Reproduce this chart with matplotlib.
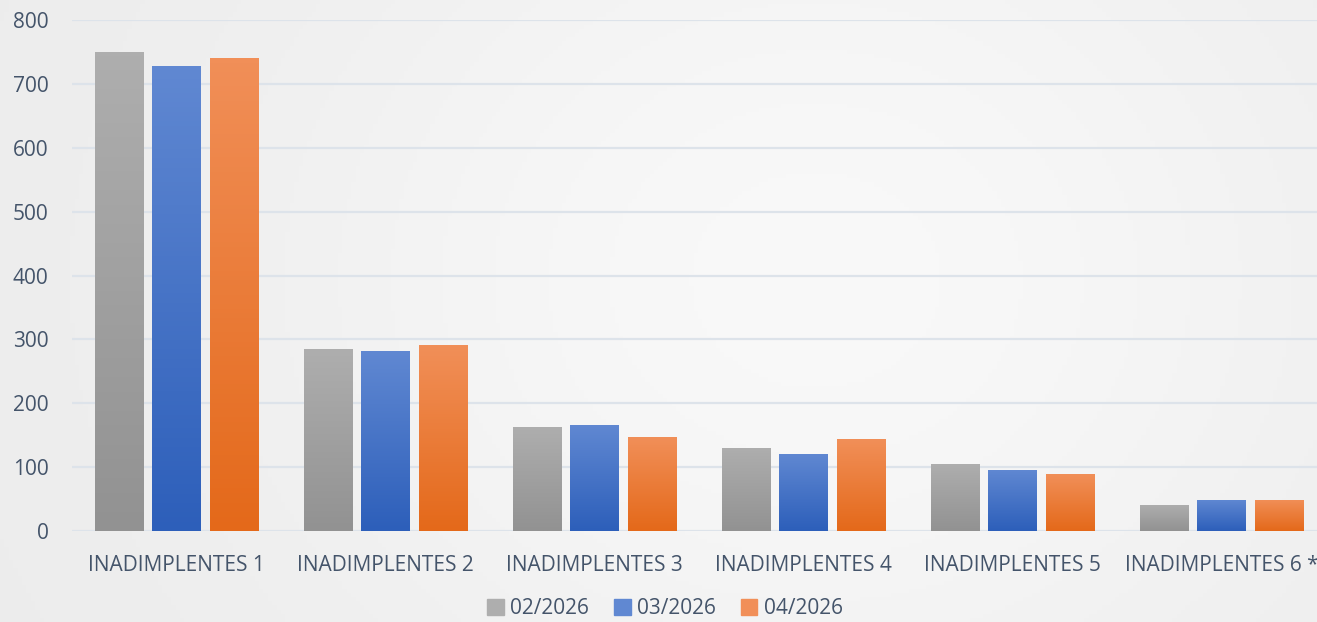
import numpy as np
import matplotlib
matplotlib.use("Agg")
import matplotlib.pyplot as plt
from matplotlib.colors import LinearSegmentedColormap

categories = ["INADIMPLENTES 1", "INADIMPLENTES 2", "INADIMPLENTES 3",
              "INADIMPLENTES 4", "INADIMPLENTES 5", "INADIMPLENTES 6 *"]
series_names = ["02/2026", "03/2026", "04/2026"]
v_feb = [750, 285, 163, 130, 105, 41]
v_mar = [728, 282, 166, 121, 96, 49]
v_apr = [740, 291, 147, 144, 89, 49]

# top colour / bottom colour of each series gradient
GRAD = [("#aeaeae", "#929292"), ("#6088d2", "#2d5fba"), ("#f18f58", "#e4691a")]
TXT = "#44546a"
GRID = "#dde3ea"

plt.rcParams["font.family"] = ["Open Sans", "DejaVu Sans"]

fig = plt.figure(figsize=(13.17, 6.22), dpi=100)

# soft background gradient (darker at the left, lighter right of centre)
bg = fig.add_axes([0, 0, 1, 1], zorder=-10)
xx, yy = np.meshgrid(np.linspace(0, 1, 300), np.linspace(0, 1, 150))
shade = 0.925 + 0.05 * np.exp(-((xx - 0.62) ** 2 / 0.18 + (yy - 0.55) ** 2 / 0.6))
bg.imshow(np.dstack([shade] * 3), extent=[0, 1, 0, 1], aspect="auto", origin="lower")
bg.axis("off")

ax = fig.add_axes([72 / 1317, 1 - 531 / 622, 1254 / 1317, 511 / 622])
ax.patch.set_alpha(0)

x = np.arange(len(categories))
w = 0.23
step = 0.277
for i, vals in enumerate([v_feb, v_mar, v_apr]):
    top, bot = GRAD[i]
    cmap = LinearSegmentedColormap.from_list(f"g{i}", [bot, top])
    bars = ax.bar(x + (i - 1) * step, vals, w, color=top, label=series_names[i], zorder=3)
    for b in bars:
        bx, by = b.get_x(), b.get_y()
        bw, bh = b.get_width(), b.get_height()
        im = ax.imshow(np.linspace(0, 1, 100).reshape(-1, 1), cmap=cmap, origin="lower",
                       extent=[bx, bx + bw, by, by + bh], aspect="auto", zorder=4)
        im.set_clip_path(b)

ax.set_xlim(-0.5, len(categories) - 0.5)
ax.set_ylim(0, 800)
ax.set_yticks(range(0, 801, 100))
ax.set_xticks(x)
ax.set_xticklabels(categories)
ax.yaxis.grid(True, color=GRID, linewidth=1.6, zorder=0)
ax.set_axisbelow(True)
for s in ax.spines.values():
    s.set_visible(False)
ax.tick_params(axis="both", length=0, colors=TXT, labelsize=15)
ax.tick_params(axis="y", pad=17)
ax.tick_params(axis="x", pad=17)

handles = [plt.Rectangle((0, 0), 1, 1, color=GRAD[i][0]) for i in range(3)]
leg = fig.legend(handles, series_names, loc="center", bbox_to_anchor=(665 / 1317, 1 - 609 / 622),
                 ncol=3, frameon=False, fontsize=15, handlelength=0.8, handleheight=0.8,
                 handletextpad=0.3, columnspacing=1.2)
for t in leg.get_texts():
    t.set_color(TXT)

fig.savefig("out.png", dpi=100)
